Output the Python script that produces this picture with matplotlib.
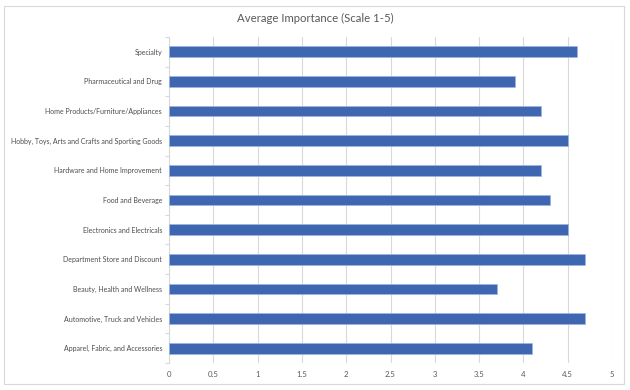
import matplotlib
matplotlib.use("Agg")
import matplotlib.pyplot as plt
import numpy as np
from matplotlib.patches import Rectangle

categories = [
    "Apparel, Fabric, and Accessories",
    "Automotive, Truck and Vehicles",
    "Beauty, Health and Wellness",
    "Department Store and Discount",
    "Electronics and Electricals",
    "Food and Beverage",
    "Hardware and Home Improvement",
    "Hobby, Toys, Arts and Crafts and Sporting Goods",
    "Home Products/Furniture/Appliances",
    "Pharmaceutical and Drug",
    "Specialty",
]
values = [4.1, 4.7, 3.7, 4.7, 4.5, 4.3, 4.2, 4.5, 4.2, 3.9, 4.6]
xticks = [0, 0.5, 1, 1.5, 2, 2.5, 3, 3.5, 4, 4.5, 5]
xticklabels = ["0", "0.5", "1", "1.5", "2", "2.5", "3", "3.5", "4", "4.5", "5"]
title = "Average Importance (Scale 1-5)"

plt.rcParams['font.family'] = ['Lato', 'DejaVu Sans']

W, H = 630, 390
fig = plt.figure(figsize=(W / 100, H / 100), dpi=100)
fig.patches.append(Rectangle((4 / W, 6 / H), 620 / W, 378 / H, transform=fig.transFigure,
                             fill=False, edgecolor="#d9d9d9", linewidth=0.8))

left, right, top, bottom = 169, 612, 37, 363
ax = fig.add_axes([left / W, 1 - bottom / H, (right - left) / W, (bottom - top) / H])

y = np.arange(len(categories))
ax.barh(y, values, height=0.36, color="#3F67B1", edgecolor="#9FB6E0", linewidth=0.5, zorder=3)
ax.set_ylim(-0.5, len(categories) - 0.5)
ax.set_xlim(0, 5)
ax.set_xticks(xticks)
ax.set_xticklabels(xticklabels, fontsize=5.6, color="#595959")
ax.set_yticks(y)
ax.set_yticklabels(categories, fontsize=5.0, color="#4d4d4d")
ax.set_yticks(np.arange(-0.5, len(categories), 1), minor=True)
ax.tick_params(axis='y', which='major', length=0, pad=5)
ax.tick_params(axis='y', which='minor', length=3, color="#d9d9d9", width=0.8)
ax.tick_params(axis='x', length=0, pad=6)
ax.grid(axis='x', color="#d9d9d9", linewidth=0.8, zorder=0)
for s in ["top", "right", "bottom"]:
    ax.spines[s].set_visible(False)
ax.spines["left"].set_color("#d9d9d9")
ax.spines["left"].set_linewidth(0.8)

fig.text(W / 2 / W, 1 - 18 / H, title, ha="center", va="center",
         fontsize=8.2, color="#595959")

fig.savefig("out.png", dpi=100)
